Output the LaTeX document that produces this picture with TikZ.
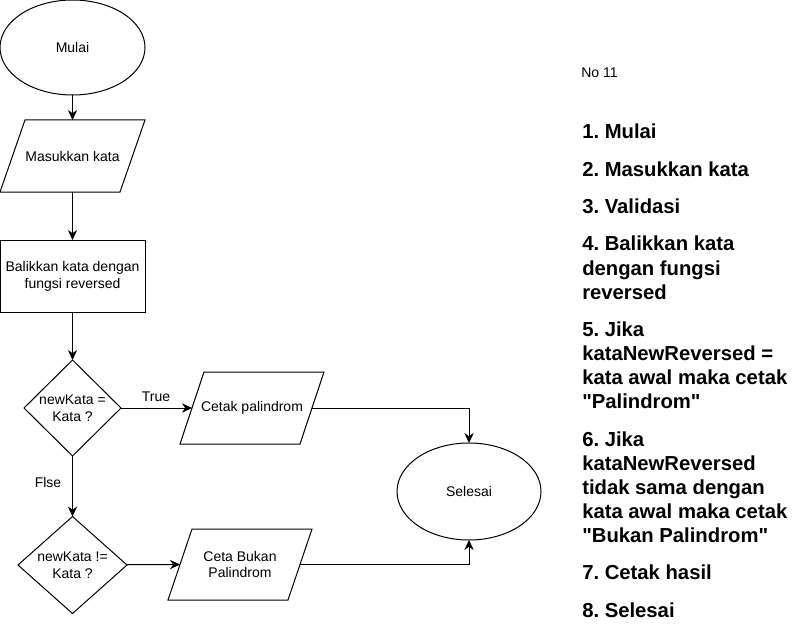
\documentclass[tikz,border=0pt]{standalone}
\usepackage{fontspec}
\setmainfont{Liberation Sans}
\newfontfamily\plainsans{Liberation Sans}
\usetikzlibrary{shapes.geometric,arrows.meta}
\frenchspacing
\newcommand{\ioshape}[2]{%
  \draw[line width=0.75pt,line join=miter]
    ([xshift=#2*0.75pt]#1.north west) -- ([xshift=#2*0.75pt]#1.north east) --
    ([xshift=-#2*0.75pt]#1.south east) -- ([xshift=-#2*0.75pt]#1.south west) -- cycle;}
\begin{document}
\begin{tikzpicture}[x=0.75pt,y=-0.75pt,
  base/.style={draw=black,line width=0.75pt,font=\plainsans\fontsize{10.5}{12.6}\selectfont,align=center,inner sep=0pt,outer sep=0pt},
  term/.style={base,ellipse},
  io/.style={base,draw=none,rectangle},
  proc/.style={base,rectangle},
  dec/.style={base,diamond},
  conn/.style={line width=0.75pt,-{Stealth[length=7.5pt,width=7pt,inset=2.4pt]}},
  lbl/.style={font=\plainsans\fontsize{10.5}{12.6}\selectfont,inner sep=0pt},
  stepitem/.style={anchor=base west,inner sep=0pt,font=\plainsans\fontsize{15.2}{18}\bfseries\selectfont},
]
\useasboundingbox (0,0) rectangle (806,638);
% flowchart
\node[term,minimum width=145*0.75pt,minimum height=95*0.75pt] (mulai) at (72.5,47.5) {Mulai};
\node[io,minimum width=120*0.75pt,minimum height=72*0.75pt] (masuk) at (72.5,156) {Masukkan kata};
\ioshape{masuk}{12.5}
\node[proc,minimum width=145*0.75pt,minimum height=72*0.75pt] (balik) at (72.5,276) {Balikkan kata dengan\\fungsi reversed};
\node[dec,minimum width=97*0.75pt,minimum height=96*0.75pt] (d1) at (72.5,408) {newKata =\\Kata ?};
\node[io,minimum width=120*0.75pt,minimum height=72*0.75pt] (cetak) at (252,408) {Cetak palindrom};
\ioshape{cetak}{12}
\node[term,minimum width=144*0.75pt,minimum height=97*0.75pt] (sel) at (469,491.5) {Selesai};
\node[dec,minimum width=109*0.75pt,minimum height=96*0.75pt] (d2) at (72.5,565) {newKata !=\\Kata ?};
\node[io,minimum width=120*0.75pt,minimum height=71*0.75pt] (bukan) at (240,564.5) {Ceta Bukan\\Palindrom};
\ioshape{bukan}{12}
\draw[conn] (mulai) -- (masuk.north);
\draw[conn] (masuk) -- (balik);
\draw[conn] (balik) -- (d1);
\draw[conn] (d1) -- (cetak.west);
\draw[conn] (d1) -- (d2);
\draw[conn] (d2) -- (bukan.west);
\draw[conn] (cetak.east) -| (sel.north);
\draw[conn] (bukan.east) -| (sel.south);
\node[lbl] (ltrue) at (156,397) {True};
\node[lbl] (lfalse) at (48,482) {Flse};
% text column
\node[anchor=base west,inner sep=0pt,font=\plainsans\fontsize{10.5}{12.6}\selectfont] (no) at (581,78) {No 11};
\node[stepitem] (s1) at (582,139) {1. Mulai};
\node[stepitem] (s2) at (582,176.3) {2. Masukkan kata};
\node[stepitem] (s3) at (582,213.6) {3. Validasi};
\node[stepitem] (s4a) at (582,250.9) {4. Balikkan kata};
\node[stepitem] (s4b) at (582,275) {dengan fungsi};
\node[stepitem] (s4c) at (582,299.1) {reversed};
\node[stepitem] (s5a) at (582,336.4) {5. Jika};
\node[stepitem] (s5b) at (582,360.5) {kataNewReversed =};
\node[stepitem] (s5c) at (582,384.6) {kata awal maka cetak};
\node[stepitem] (s5d) at (582,408.7) {"Palindrom"};
\node[stepitem] (s6a) at (582,446) {6. Jika};
\node[stepitem] (s6b) at (582,470.1) {kataNewReversed};
\node[stepitem] (s6c) at (582,494.2) {tidak sama dengan};
\node[stepitem] (s6d) at (582,518.3) {kata awal maka cetak};
\node[stepitem] (s6e) at (582,542.4) {"Bukan Palindrom"};
\node[stepitem] (s7) at (582,579.7) {7. Cetak hasil};
\node[stepitem] (s8) at (582,617) {8. Selesai};
\end{tikzpicture}
\end{document}
